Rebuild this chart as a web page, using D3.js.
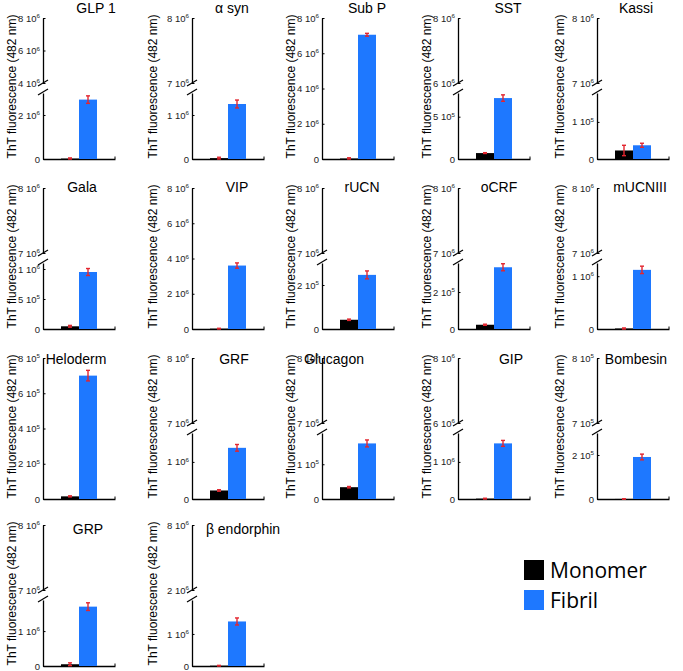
<!DOCTYPE html>
<html>
<head>
<meta charset="utf-8">
<script src="https://cdn.jsdelivr.net/npm/d3@7"></script>
<style>
  body { margin: 0; background: #fff; }
  svg { display: block; font-family: "Liberation Sans", Arial, sans-serif; }
</style>
</head>
<body>
<div id="chart"></div>
<script>
// ---- data ----
const peptides = ["GLP 1", "α syn", "Sub P", "SST", "Kassi",
                  "Gala", "VIP", "rUCN", "oCRF", "mUCNIII",
                  "Heloderm", "GRF", "Glucagon", "GIP", "Bombesin",
                  "GRP", "β endorphin"];
const series = ["Monomer", "Fibril"];

const monomer    = [0.02e6, 0.02e6, 0.03e6, 7e4, 2.3e4,
                    4.5e4, 0.02e6, 4.2e4, 2.3e4, 0.01e6,
                    1.5e4, 0.23e6, 3.4e4, 0.01e6, 0.003e5,
                    0.05e6, 0.01e6];
const monomerErr = [0.03e6, 0.02e6, 0.04e6, 0.5e4, 1.4e4,
                    1.5e4, 0.02e6, 0.3e4, 0.3e4, 0.01e6,
                    0.3e4, 0.02e6, 0.2e4, 0.01e6, 0.003e5,
                    0.04e6, 0.01e6];
const fibril     = [2.7e6, 1.25e6, 7.05e6, 7.2e5, 3.7e4,
                    0.95e6, 3.6e6, 2.46e5, 3.34e5, 1.12e6,
                    7.0e5, 1.38e6, 1.6e5, 1.5e6, 1.91e5,
                    1.7e6, 1.39e6];
const fibrilErr  = [0.17e6, 0.09e6, 0.08e6, 0.38e5, 0.55e4,
                    0.058e6, 0.15e6, 0.18e5, 0.19e5, 0.07e6,
                    0.3e5, 0.09e6, 0.1e5, 0.08e6, 0.13e5,
                    0.11e6, 0.11e6];

// broken y axes: lower segment [0, lowerMax], upper segment [upperMin, upperMax]
const lowerMax   = [3e6, 1.5e6, null, 7.8e5, 1.78e5,
                    1.1e6, null, 3e5, 3.57e5, 1.25e6,
                    null, 1.78e6, 1.9e5, 1.78e6, 3e5,
                    1.89e6, 2.06e6];
const lowerTicks = [[0, 2e6], [0, 1e6], [0, 2e6, 4e6, 6e6, 8e6], [0, 5e5], [0, 1e5],
                    [0, 5e5, 1e6], [0, 2e6, 4e6, 6e6, 8e6], [0, 2e5], [0, 2e5], [0, 1e6],
                    [0, 2e5, 4e5, 6e5, 8e5], [0, 1e6], [0, 1e5], [0, 1e6], [0, 2e5],
                    [0, 1e6], [0, 1e6]];
const upperMin   = [4e6, 7e6, null, 6e6, 7e6,
                    7e6, null, 7e6, 7e6, 7e6,
                    null, 7e6, 7e6, 6e6, 7e5,
                    7e6, 2e6];
const upperMax   = [8e6, 8e6, 8e6, 8e6, 8e6,
                    8e6, 8e6, 8e6, 8e6, 8e6,
                    8e5, 8e6, 8e6, 8e6, 8e5,
                    8e6, 8e6];
const upperTicks = [[4e6, 6e6, 8e6], [7e6, 8e6], [], [6e6, 8e6], [7e6, 8e6],
                    [7e6, 8e6], [], [7e6, 8e6], [7e6, 8e6], [7e6, 8e6],
                    [], [7e6, 8e6], [7e6, 8e6], [6e6, 8e6], [7e5, 8e5],
                    [7e6, 8e6], [2e6, 8e6]];

// ---- layout ----
const width = 683, height = 671;
const colX = [43, 192, 322, 458, 597];
const rowTop = [18, 188, 358, 525];
const titleY = [13, 192, 364, 534];
const titleDx = [53, 40, 45, 50, 39,
                 39, 45, 40, 41, 43,
                 33, 42, 12, 53, 39,
                 45, 51];
const labelDx = [-31, -39, -31, -31, -37];
const plotH = 141, plotW = 72, lowH = 66, gapH = 10;
const colors = { Monomer: "#000000", Fibril: "#1e78ff" };
const errColor = "#e3262f";

const svg = d3.select("#chart").append("svg")
  .attr("width", width)
  .attr("height", height);

function sciLabel(sel) {
  sel.selectAll(".tick text").each(function (d) {
    const t = d3.select(this);
    t.text(null);
    if (d === 0) { t.text("0"); return; }
    const e = Math.floor(Math.log10(d) + 1e-9);
    const m = Math.round(d / Math.pow(10, e));
    t.append("tspan").text(m + " 10");
    t.append("tspan").attr("dy", "-0.55em").attr("font-size", "0.65em").text(e);
  });
}

function styleAxis(sel) {
  sel.attr("font-size", 9.5).attr("font-family", "Liberation Sans, Arial, sans-serif");
  sel.select(".domain").attr("stroke", "#000").attr("stroke-width", 1.3);
  sel.selectAll(".tick line").attr("stroke", "#000").attr("stroke-width", 1);
  sel.selectAll(".tick text").attr("fill", "#222");
}

peptides.forEach((name, i) => {
  const col = i % 5, row = Math.floor(i / 5);
  const g = svg.append("g").attr("transform", `translate(${colX[col]},${rowTop[row]})`);
  const broken = lowerMax[i] != null;

  let lower, upper;
  if (broken) {
    lower = d3.scaleLinear().domain([0, lowerMax[i]]).range([plotH, plotH - lowH]);
    upper = d3.scaleLinear().domain([upperMin[i], upperMax[i]]).range([plotH - lowH - gapH, 0]);
  } else {
    lower = d3.scaleLinear().domain([0, upperMax[i]]).range([plotH, 0]);
  }
  const y = v => (!broken || v <= lowerMax[i]) ? lower(v) : upper(v);

  const x = d3.scaleBand().domain(series).range([0, plotW]).paddingInner(0).paddingOuter(1);

  // y axis segments
  const la = g.append("g")
    .call(d3.axisLeft(lower).tickValues(lowerTicks[i]).tickSizeInner(-2.5).tickSizeOuter(0).tickPadding(3));
  styleAxis(la); sciLabel(la);
  if (broken) {
    const ua = g.append("g")
      .call(d3.axisLeft(upper).tickValues(upperTicks[i]).tickSizeInner(-2.5).tickSizeOuter(0).tickPadding(3));
    styleAxis(ua); sciLabel(ua);
    // break marks
    const yb = plotH - lowH, yt = plotH - lowH - gapH;
    g.append("g").selectAll("line")
      .data([yb, yt + 1])
      .join("line")
      .attr("x1", -5).attr("x2", 5)
      .attr("y1", d => d + 2).attr("y2", d => d - 4)
      .attr("stroke", "#000").attr("stroke-width", 1.2);
  }

  // x axis
  const xa = g.append("g").attr("transform", `translate(0,${plotH})`)
    .call(d3.axisBottom(x).tickSize(0).tickSizeOuter(0).tickFormat(""));
  xa.select(".domain").attr("stroke", "#000").attr("stroke-width", 1.3);
  g.append("line")
    .attr("x1", plotW).attr("x2", plotW)
    .attr("y1", plotH).attr("y2", plotH - 2.5)
    .attr("stroke", "#000").attr("stroke-width", 1);

  const vals = [
    { s: "Monomer", v: monomer[i], e: monomerErr[i] },
    { s: "Fibril", v: fibril[i], e: fibrilErr[i] }
  ];

  g.selectAll("rect.bar").data(vals).join("rect")
    .attr("class", "bar")
    .attr("x", d => x(d.s))
    .attr("width", x.bandwidth())
    .attr("y", d => y(d.v))
    .attr("height", d => plotH - y(d.v))
    .attr("fill", d => colors[d.s]);

  const eb = g.selectAll("g.err").data(vals).join("g").attr("class", "err")
    .attr("stroke", errColor).attr("stroke-width", 1.4);
  eb.append("line")
    .attr("x1", d => x(d.s) + x.bandwidth() / 2).attr("x2", d => x(d.s) + x.bandwidth() / 2)
    .attr("y1", d => y(Math.max(0, d.v - d.e))).attr("y2", d => y(d.v + d.e));
  eb.selectAll("line.cap")
    .data(d => [
      { cx: x(d.s) + x.bandwidth() / 2, cy: y(Math.max(0, d.v - d.e)) },
      { cx: x(d.s) + x.bandwidth() / 2, cy: y(d.v + d.e) }])
    .join("line").attr("class", "cap")
    .attr("x1", d => d.cx - 2).attr("x2", d => d.cx + 2)
    .attr("y1", d => d.cy).attr("y2", d => d.cy);

  // title
  svg.append("text")
    .attr("x", colX[col] + titleDx[i])
    .attr("y", titleY[row])
    .attr("text-anchor", "middle")
    .attr("font-size", 14)
    .text(name);

  // y label
  g.append("text")
    .attr("transform", `translate(${labelDx[col]},${plotH / 2 - 2}) rotate(-90)`)
    .attr("text-anchor", "middle")
    .attr("dy", "0.35em")
    .attr("font-size", 12)
    .text("ThT fluorescence (482 nm)");
});

// legend
const legend = svg.append("g").attr("transform", "translate(524,560)");
legend.selectAll("rect").data(series).join("rect")
  .attr("x", 0).attr("y", (d, k) => k * 30)
  .attr("width", 20).attr("height", 20)
  .attr("fill", d => colors[d]);
legend.selectAll("text").data(series).join("text")
  .attr("x", 26).attr("y", (d, k) => k * 30 + 18)
  .attr("font-family", "Open Sans, sans-serif")
  .attr("font-size", 21)
  .text(d => d);
</script>
</body>
</html>
